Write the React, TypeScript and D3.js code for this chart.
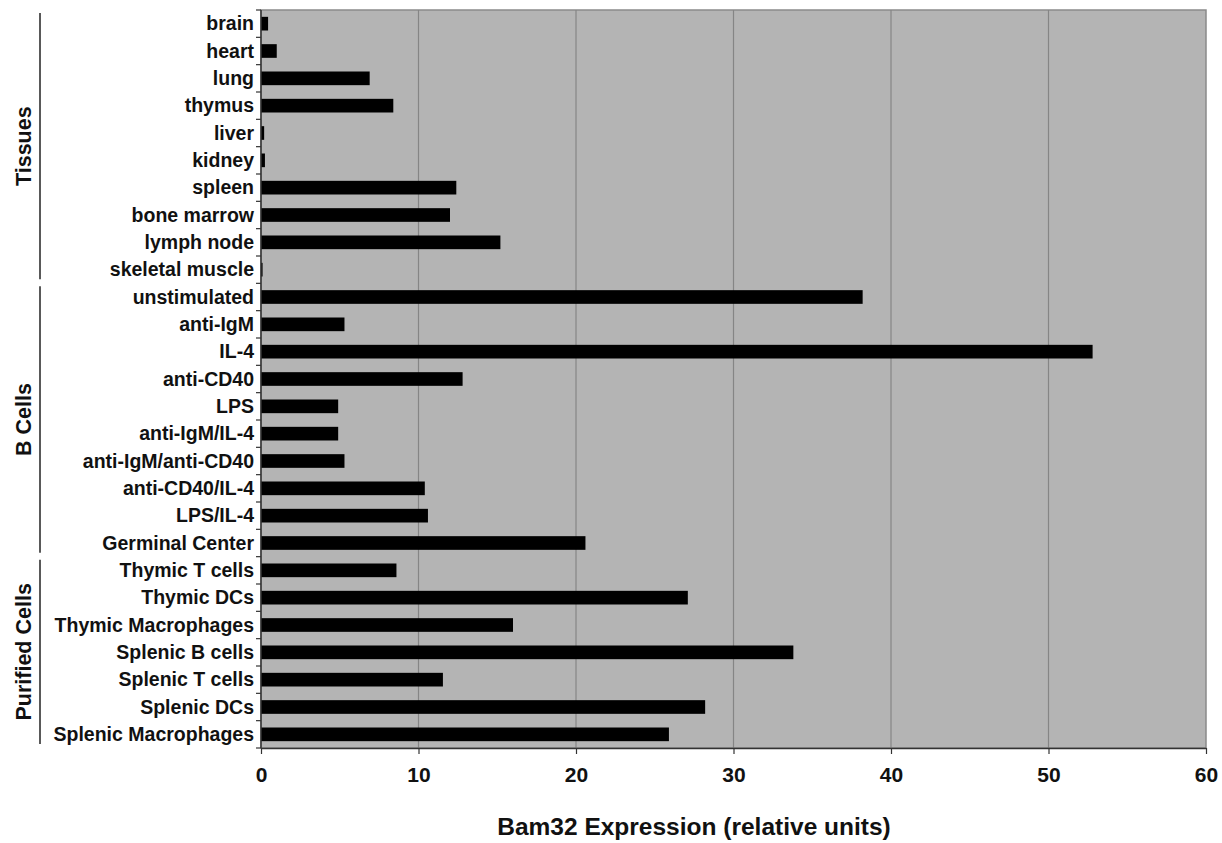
import React, { useEffect, useRef } from "react";
import * as d3 from "d3";

const tissues = ["brain", "heart", "lung", "thymus", "liver", "kidney", "spleen", "bone marrow", "lymph node", "skeletal muscle"];
const tissueValues = [0.45, 1.0, 6.9, 8.4, 0.2, 0.25, 12.4, 12.0, 15.2, 0.1];

const bCells = ["unstimulated", "anti-IgM", "IL-4", "anti-CD40", "LPS", "anti-IgM/IL-4", "anti-IgM/anti-CD40", "anti-CD40/IL-4", "LPS/IL-4", "Germinal Center"];
const bCellValues = [38.2, 5.3, 52.8, 12.8, 4.9, 4.9, 5.3, 10.4, 10.6, 20.6];

const purified = ["Thymic T cells", "Thymic DCs", "Thymic Macrophages", "Splenic B cells", "Splenic T cells", "Splenic DCs", "Splenic Macrophages"];
const purifiedValues = [8.6, 27.1, 16.0, 33.8, 11.55, 28.2, 25.9];

const groups = ["Tissues", "B Cells", "Purified Cells"];
const xTicks = [0, 10, 20, 30, 40, 50, 60];

export default function App() {
  const ref = useRef<SVGSVGElement>(null);

  useEffect(() => {
    const svg = d3.select(ref.current);
    svg.selectAll("*").remove();
    const font = "'Liberation Sans', Arial, sans-serif";
    const margin = { top: 10, right: 16, bottom: 95, left: 261 };
    const width = 1222 - margin.left - margin.right;
    const height = 843 - margin.top - margin.bottom;

    const cats = [...tissues, ...bCells, ...purified];
    const vals = [...tissueValues, ...bCellValues, ...purifiedValues];
    const data = cats.map((c, i) => ({ name: c, value: vals[i] }));

    const g = svg.append("g").attr("transform", "translate(" + margin.left + "," + margin.top + ")");

    const x = d3.scaleLinear().domain([0, 60]).range([0, width]);
    const y = d3.scaleBand().domain(cats).range([0, height]).paddingInner(0.5).paddingOuter(0.25);

    // plot background
    g.append("rect").attr("width", width).attr("height", height).attr("fill", "#b4b4b4")
      .attr("stroke", "#8a8a8a").attr("stroke-width", 1.5);

    // gridlines
    g.selectAll(".grid").data(xTicks.slice(1, -1)).enter().append("line")
      .attr("x1", d => x(d)).attr("x2", d => x(d))
      .attr("y1", 0).attr("y2", height)
      .attr("stroke", "#858585").attr("stroke-width", 1.2);

    // bars
    g.selectAll(".bar").data(data).enter().append("rect")
      .attr("x", 0)
      .attr("y", d => y(d.name)!)
      .attr("width", d => x(d.value))
      .attr("height", y.bandwidth())
      .attr("fill", "#000");

    // x axis
    const xAxis = g.append("g").attr("transform", "translate(0," + height + ")")
      .call(d3.axisBottom(x).tickValues(xTicks).tickSize(6).tickSizeOuter(0).tickPadding(13));
    xAxis.select(".domain").attr("stroke", "#333").attr("stroke-width", 1.5);
    xAxis.selectAll(".tick line").attr("stroke", "#333").attr("stroke-width", 1.2);
    xAxis.selectAll(".tick text").attr("font-family", font).attr("font-weight", "bold")
      .attr("font-size", 21).attr("fill", "#111");

    // y axis with ticks at category boundaries
    const step = y.step();
    g.append("line").attr("x1", 0).attr("x2", 0).attr("y1", 0).attr("y2", height)
      .attr("stroke", "#333").attr("stroke-width", 1.5);
    g.selectAll(".ytick").data(d3.range(cats.length + 1)).enter().append("line")
      .attr("x1", -5).attr("x2", 0)
      .attr("y1", i => i * step).attr("y2", i => i * step)
      .attr("stroke", "#333").attr("stroke-width", 1.2);
    g.selectAll(".ylab").data(cats).enter().append("text")
      .attr("x", -7).attr("y", d => y(d)! + y.bandwidth() / 2)
      .attr("dy", "0.35em").attr("text-anchor", "end")
      .attr("font-family", font).attr("font-weight", "bold").attr("font-size", 19.5).attr("fill", "#111")
      .text(d => d);

    // group brackets
    const sizes = [tissues.length, bCells.length, purified.length];
    let start = 0;
    groups.forEach((name, i) => {
      const y0 = start * step + 3;
      const y1 = (start + sizes[i]) * step - 4;
      start += sizes[i];
      g.append("line").attr("x1", 40 - margin.left).attr("x2", 40 - margin.left)
        .attr("y1", y0).attr("y2", y1).attr("stroke", "#222").attr("stroke-width", 1.5);
      const cy = (y0 + y1) / 2;
      g.append("text")
        .attr("transform", "translate(" + (31 - margin.left) + "," + cy + ") rotate(-90)")
        .attr("text-anchor", "middle")
        .attr("font-family", font).attr("font-weight", "bold").attr("font-size", 21.5).attr("fill", "#111")
        .text(name);
    });

    // axis title
    g.append("text")
      .attr("x", 694 - margin.left).attr("y", height + 87)
      .attr("text-anchor", "middle")
      .attr("font-family", font).attr("font-weight", "bold").attr("font-size", 24.5).attr("fill", "#111")
      .text("Bam32 Expression (relative units)");
  }, []);

  return (
    <svg ref={ref} width={1222} height={843} style={{ position: "absolute", left: 0, top: 0 }}></svg>
  );
}
